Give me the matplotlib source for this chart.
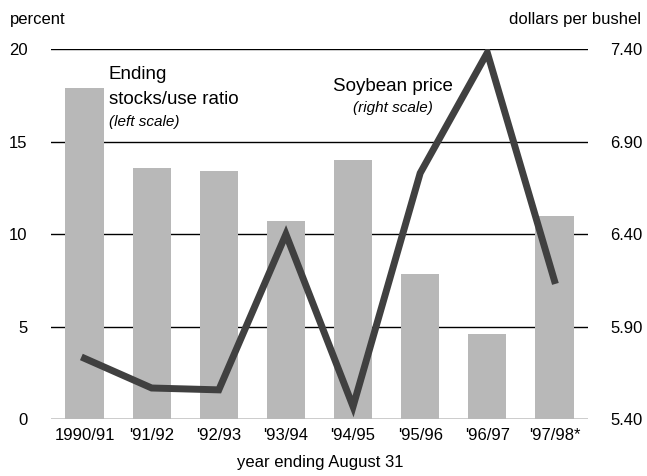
import matplotlib.pyplot as plt
from matplotlib import font_manager

names = {f.name for f in font_manager.fontManager.ttflist}
fam = ['Liberation Sans Narrow', 'Liberation Sans', 'DejaVu Sans']
plt.rcParams['font.family'] = [f for f in fam if f in names] or ['DejaVu Sans']

years = ["1990/91", "'91/92", "'92/93", "'93/94", "'94/95", "'95/96", "'96/97", "'97/98*"]
stocks_ratio = [17.9, 13.6, 13.4, 10.7, 14.0, 7.85, 4.6, 11.0]
soy_price = [5.73, 5.57, 5.56, 6.40, 5.47, 6.73, 7.38, 6.15]
left_ticks = [0, 5, 10, 15, 20]
right_ticks = [5.40, 5.90, 6.40, 6.90, 7.40]

fig = plt.figure(figsize=(6.47, 4.76), dpi=100)
ax = fig.add_axes([0.0788, 0.1187, 0.83, 0.7783])
x = list(range(len(years)))

ax.bar(x, stocks_ratio, width=0.57, color='#b8b8b8', zorder=1)
ax.set_xlim(-0.5, 7.5)
ax.set_ylim(0, 20)
ax.set_yticks(left_ticks)
for t in left_ticks:
    ax.axhline(t, color='black', lw=1.0, zorder=0.5)
for s in ax.spines.values():
    s.set_visible(False)
ax.tick_params(axis='both', length=0, labelsize=12)
ax.tick_params(axis='y', pad=17)
ax.tick_params(axis='x', pad=6)
ax.set_xticks(x)
ax.set_xticklabels(years)

ax2 = ax.twinx()
ax2.plot(x, soy_price, color='#404040', lw=5, solid_joinstyle='miter', zorder=3)
ax2.set_ylim(5.40, 7.40)
ax2.set_yticks(right_ticks)
ax2.set_yticklabels(['%.2f' % v for v in right_ticks])
for s in ax2.spines.values():
    s.set_visible(False)
ax2.tick_params(axis='y', length=0, labelsize=12, pad=16)

fig.text(0.015, 0.975, 'percent', fontsize=12, va='top', ha='left')
fig.text(0.99, 0.975, 'dollars per bushel', fontsize=12, va='top', ha='right')
fig.text(0.495, 0.012, 'year ending August 31', fontsize=12, ha='center', va='bottom')

ax.text(0.36, 18.6, 'Ending', fontsize=13.5, va='center', ha='left')
ax.text(0.36, 17.25, 'stocks/use ratio', fontsize=13.5, va='center', ha='left')
ax.text(0.36, 16.06, '(left scale)', fontsize=11, style='italic', va='center', ha='left')
ax.text(4.6, 18.0, 'Soybean price', fontsize=13.5, va='center', ha='center')
ax.text(4.6, 16.8, '(right scale)', fontsize=11, style='italic', va='center', ha='center')

fig.savefig('out.png', dpi=100)
